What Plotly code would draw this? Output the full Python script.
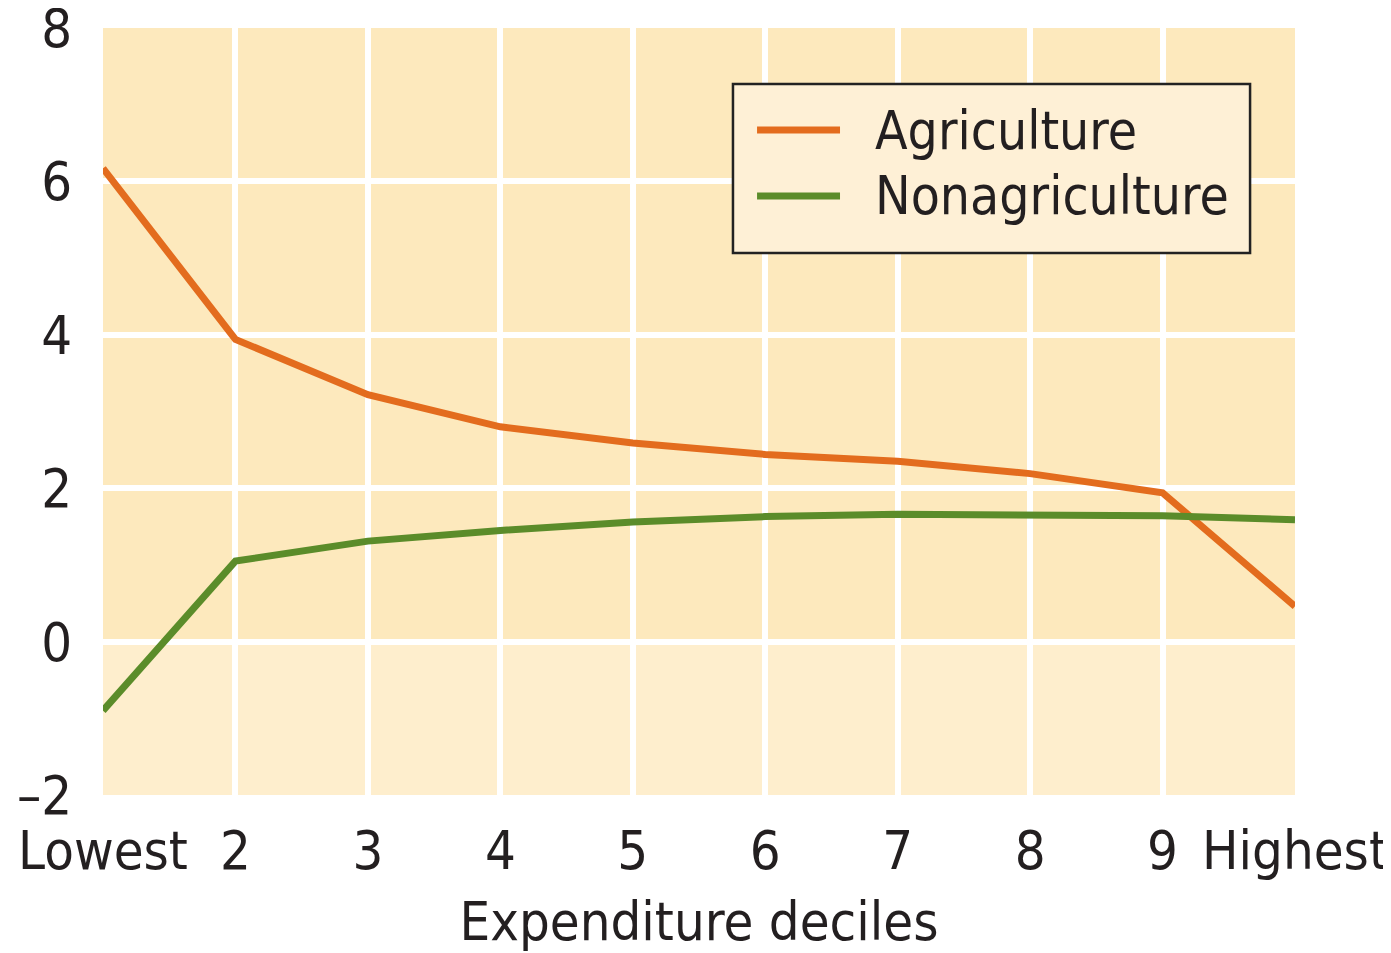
import plotly.graph_objects as go

deciles = ["Lowest", "2", "3", "4", "5", "6", "7", "8", "9", "Highest"]
x_pos = [1, 2, 3, 4, 5, 6, 7, 8, 9, 10]
agriculture = [6.17, 3.94, 3.22, 2.80, 2.59, 2.44, 2.35, 2.19, 1.94, 0.46]
nonagriculture = [-0.90, 1.05, 1.31, 1.45, 1.56, 1.63, 1.66, 1.66, 1.64, 1.59]
y_ticks = [-2, 0, 2, 4, 6, 8]
y_labels = ["\u20132", "0", "2", "4", "6", "8"]
series_names = ["Agriculture", "Nonagriculture"]
series_colors = ["#e36c1e", "#5b8c2a"]

FONT = "Liberation Sans Narrow, DejaVu Sans Condensed, Roboto Condensed, Arial Narrow, sans-serif"
TXT = "#231f20"

fig = go.Figure()
for name, vals, col in zip(series_names, [agriculture, nonagriculture], series_colors):
    fig.add_trace(go.Scatter(x=x_pos, y=vals, mode="lines", name=name,
                             line=dict(color=col, width=7), showlegend=False))

# lighter band below zero
fig.add_shape(type="rect", xref="x", yref="y", x0=1, x1=10, y0=-2, y1=0,
              fillcolor="#feeecd", line=dict(width=0), layer="below")

# legend box (drawn manually to match the reference's proportions)
fig.add_shape(type="rect", xref="paper", yref="paper", x0=0.5285, x1=0.9623, y0=0.7066, y1=0.927,
              fillcolor="#fef0d6", line=dict(color="#222222", width=2.5), layer="above")
leg_y = [0.8670, 0.7810]
for name, col, yy in zip(series_names, series_colors, leg_y):
    fig.add_shape(type="line", xref="paper", yref="paper", x0=0.5487, x1=0.6183, y0=yy, y1=yy,
                  line=dict(color=col, width=7), layer="above")
    fig.add_annotation(xref="paper", yref="paper", x=0.6460, y=yy, text=name, showarrow=False,
                       xanchor="left", yanchor="middle",
                       font=dict(size=53, family=FONT, color=TXT))

fig.update_layout(
    template="none",
    width=1383, height=945,
    margin=dict(l=95, r=96, t=20, b=158),
    paper_bgcolor="white",
    plot_bgcolor="#fde9bd",
    font=dict(family=FONT, size=54, color=TXT),
    showlegend=False,
    xaxis=dict(range=[1, 10], tickmode="array", tickvals=x_pos, ticktext=deciles,
               automargin=False, ticklabeloverflow="allow",
               showgrid=True, gridcolor="white", gridwidth=6, zeroline=False, showline=False,
               ticks="outside", ticklen=8, tickcolor="rgba(0,0,0,0)",
               tickfont=dict(size=54, family=FONT, color=TXT),
               title=dict(text="Expenditure deciles", font=dict(size=54, family=FONT, color=TXT), standoff=23)),
    yaxis=dict(range=[-2, 8], tickmode="array", tickvals=y_ticks, ticktext=y_labels,
               automargin=False, ticklabeloverflow="allow",
               showgrid=True, gridcolor="white", gridwidth=6, zeroline=False, showline=False,
               ticks="outside", ticklen=19, tickcolor="rgba(0,0,0,0)",
               tickfont=dict(size=54, family=FONT, color=TXT)),
)

fig.write_html("out.html")
